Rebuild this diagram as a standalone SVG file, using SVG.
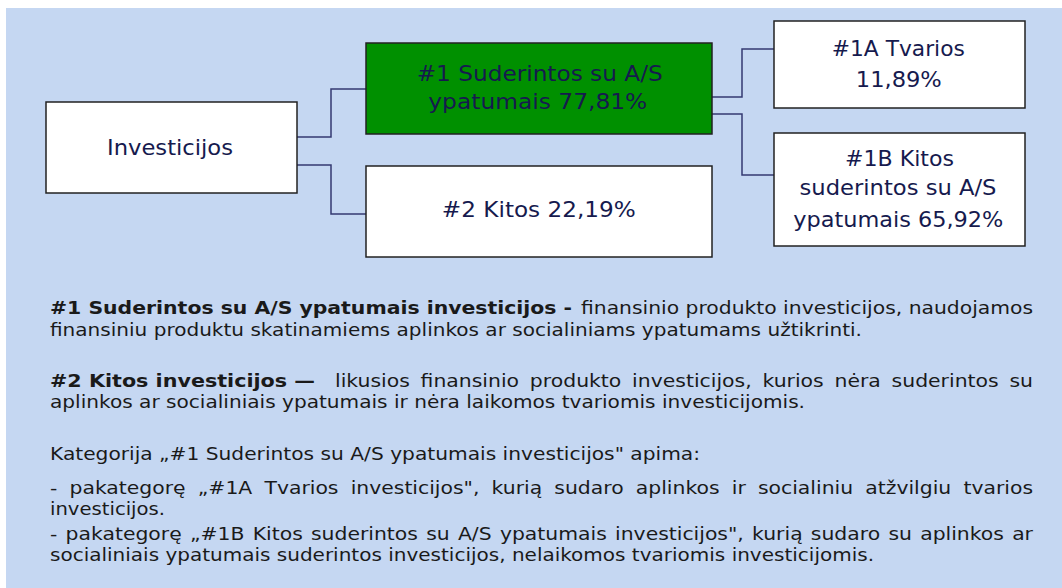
<svg xmlns="http://www.w3.org/2000/svg" width="1062" height="588" viewBox="0 0 1062 588">
<style>
.box{stroke:#222;stroke-width:1.5}
.w{fill:#fff}
.g{fill:#009000}
.nt{font-family:"DejaVu Sans","Liberation Sans",sans-serif;font-size:22px;fill:#161a4e;text-anchor:middle}
.bt{font-family:"DejaVu Sans","Liberation Sans",sans-serif;font-size:17px;fill:#1a1a1a}
.b{font-weight:bold}
.con{fill:none;stroke:#343a72;stroke-width:1.5}
</style>
<rect x="0" y="0" width="1062" height="588" fill="#fff"/>
<rect x="6" y="8" width="1056" height="580" fill="#c5d7f2"/>
<g id="connectors">
<polyline class="con" points="297,137 331,137 331,89 366,89"/>
<polyline class="con" points="297,165 331,165 331,214 366,214"/>
<polyline class="con" points="712,97 742,97 742,49 774,49"/>
<polyline class="con" points="712,114 742,114 742,175 774,175"/>
</g>
<g id="n0">
<rect class="box w" x="46" y="102" width="251" height="91"/>
<text class="nt" x="170" y="155" textLength="126" lengthAdjust="spacingAndGlyphs">Investicijos</text>
</g>
<g id="n1">
<rect class="box g" x="366" y="43" width="346" height="91"/>
<text class="nt" x="539.7" y="81" textLength="246" lengthAdjust="spacingAndGlyphs">#1 Suderintos su A/S</text>
<text class="nt" x="537.8" y="109" textLength="219" lengthAdjust="spacingAndGlyphs">ypatumais 77,81%</text>
</g>
<g id="n2">
<rect class="box w" x="366" y="166" width="346" height="91"/>
<text class="nt" x="538.8" y="217" textLength="194" lengthAdjust="spacingAndGlyphs">#2 Kitos 22,19%</text>
</g>
<g id="n1a">
<rect class="box w" x="774" y="21" width="251" height="87"/>
<text class="nt" x="898.3" y="56" textLength="133" lengthAdjust="spacingAndGlyphs">#1A Tvarios</text>
<text class="nt" x="898.8" y="87" textLength="86" lengthAdjust="spacingAndGlyphs">11,89%</text>
</g>
<g id="n1b">
<rect class="box w" x="774" y="133" width="251" height="113"/>
<text class="nt" x="899.5" y="166" textLength="109" lengthAdjust="spacingAndGlyphs">#1B Kitos</text>
<text class="nt" x="898" y="195" textLength="197" lengthAdjust="spacingAndGlyphs">suderintos su A/S</text>
<text class="nt" x="898.3" y="227" textLength="210" lengthAdjust="spacingAndGlyphs">ypatumais 65,92%</text>
</g>
<g id="legend">
<text class="bt b" x="50" y="314" textLength="522" lengthAdjust="spacingAndGlyphs">#1 Suderintos su A/S ypatumais investicijos -</text>
<text class="bt" x="581" y="314" textLength="452" lengthAdjust="spacingAndGlyphs">finansinio produkto investicijos, naudojamos</text>
<text class="bt" x="50" y="336" textLength="812" lengthAdjust="spacingAndGlyphs">finansiniu produktu skatinamiems aplinkos ar socialiniams ypatumams užtikrinti.</text>
<text class="bt b" x="50" y="387" textLength="265" lengthAdjust="spacingAndGlyphs">#2 Kitos investicijos —</text>
<text class="bt" x="335" y="387" textLength="698" lengthAdjust="spacingAndGlyphs" word-spacing="3.6">likusios finansinio produkto investicijos, kurios nėra suderintos su</text>
<text class="bt" x="50" y="408" textLength="755" lengthAdjust="spacingAndGlyphs">aplinkos ar socialiniais ypatumais ir nėra laikomos tvariomis investicijomis.</text>
<text class="bt" x="50" y="460" textLength="650" lengthAdjust="spacingAndGlyphs">Kategorija „#1 Suderintos su A/S ypatumais investicijos" apima:</text>
<text class="bt" x="50" y="494" textLength="983" lengthAdjust="spacingAndGlyphs" word-spacing="4.8">- pakategorę „#1A Tvarios investicijos", kurią sudaro aplinkos ir socialiniu atžvilgiu tvarios</text>
<text class="bt" x="50" y="515" textLength="115" lengthAdjust="spacingAndGlyphs">investicijos.</text>
<text class="bt" x="50" y="540" textLength="983" lengthAdjust="spacingAndGlyphs" word-spacing="1.5">- pakategorę „#1B Kitos suderintos su A/S ypatumais investicijos", kurią sudaro su aplinkos ar</text>
<text class="bt" x="50" y="561" textLength="824" lengthAdjust="spacingAndGlyphs">socialiniais ypatumais suderintos investicijos, nelaikomos tvariomis investicijomis.</text>
</g>
</svg>
